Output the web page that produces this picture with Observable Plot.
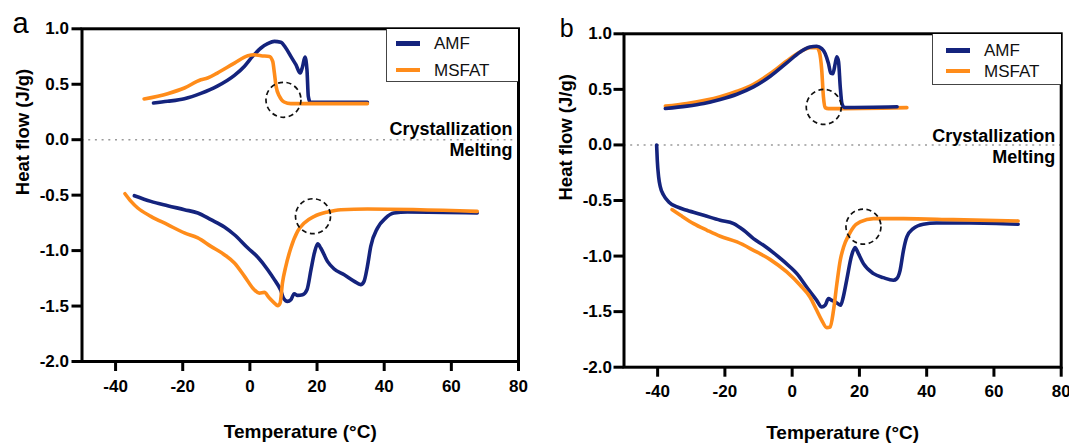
<!DOCTYPE html>
<html>
<head>
<meta charset="utf-8">
<script src="https://cdn.jsdelivr.net/npm/d3@7"></script>
<script src="https://cdn.jsdelivr.net/npm/@observablehq/plot@0.6"></script>
<style>
  html, body { margin: 0; padding: 0; background: #fff; }
  #wrap { position: relative; width: 1069px; height: 444px; overflow: hidden; font-family: "Liberation Sans", Arial, sans-serif; }
  .panel { position: absolute; top: 0; }
  .legend { position: absolute; box-sizing: border-box; border-left: 1px solid #444; border-bottom: 1px solid #444; background: #fff; }
  .sw { position: absolute; width: 24px; height: 4.5px; }
  .lt { position: absolute; font-size: 17px; line-height: 17px; color: #111; }
</style>
</head>
<body>
<div id="wrap"></div>
<script>
// ---- data (Temperature °C, Heat flow J/g) ----
const seriesNames = ["AMF", "MSFAT"];
const seriesColors = ["#14237d", "#ff8c1a"];
const xTicks = [-40, -20, 0, 20, 40, 60, 80];
const yTicks = [-2, -1.5, -1, -0.5, 0, 0.5, 1];

// Panel a
const a_AMF_cryst = [[-28.7,0.331],[-24.5,0.346],[-19.5,0.37],[-14.6,0.418],[-9.7,0.483],[-4.6,0.58],[-1.6,0.663],[0.8,0.751],[3.3,0.827],[5.3,0.866],[7.3,0.887],[9.2,0.878],[10.7,0.827],[12.2,0.751],[13.7,0.676],[15.0,0.601],[15.7,0.661],[16.4,0.745],[17.0,0.631],[17.4,0.391],[18.0,0.337],[35.0,0.337]];
const a_MSFAT_cryst = [[-31.5,0.367],[-24.5,0.415],[-19.5,0.466],[-14.6,0.541],[-12.6,0.556],[-9.7,0.601],[-4.6,0.691],[-0.6,0.757],[1.3,0.766],[3.3,0.757],[5.8,0.751],[6.8,0.706],[7.3,0.601],[7.8,0.481],[8.8,0.391],[10.2,0.34],[12.2,0.325],[35.0,0.325]];
const a_AMF_melt = [[-34.4,-0.505],[-29.5,-0.556],[-24.5,-0.595],[-19.5,-0.631],[-15.5,-0.661],[-11.6,-0.721],[-7.6,-0.787],[-4.6,-0.857],[-0.6,-0.977],[2.3,-1.058],[5.3,-1.172],[7.3,-1.262],[9.2,-1.359],[10.0,-1.428],[11.2,-1.458],[12.2,-1.443],[13.2,-1.389],[14.2,-1.404],[15.7,-1.398],[17.0,-1.353],[18.2,-1.172],[19.2,-1.022],[20.2,-0.938],[21.1,-0.977],[23.1,-1.097],[25.1,-1.166],[28.1,-1.218],[31.1,-1.277],[33.0,-1.307],[34.0,-1.277],[35.0,-1.142],[36.0,-0.962],[38.0,-0.797],[40.4,-0.707],[42.9,-0.661],[46.9,-0.652],[67.7,-0.661]];
const a_MSFAT_melt = [[-37.2,-0.487],[-35.4,-0.556],[-33.4,-0.616],[-29.5,-0.691],[-24.5,-0.766],[-19.5,-0.841],[-15.5,-0.886],[-11.6,-0.962],[-7.6,-1.037],[-4.6,-1.112],[-1.6,-1.232],[1.3,-1.353],[2.8,-1.383],[4.3,-1.377],[5.8,-1.428],[7.3,-1.473],[8.3,-1.497],[9.0,-1.473],[9.7,-1.292],[10.7,-1.142],[12.2,-0.977],[14.2,-0.827],[16.2,-0.751],[19.2,-0.691],[23.1,-0.652],[27.1,-0.631],[35.0,-0.625],[67.7,-0.646]];
const a_circles = [[10.0, 0.36], [18.8, -0.69]];

// Panel b
const b_AMF_cryst = [[-37.7,0.328],[-31.3,0.349],[-26.3,0.373],[-21.4,0.409],[-16.4,0.456],[-11.5,0.522],[-6.5,0.618],[-1.6,0.738],[2.4,0.837],[5.3,0.882],[7.3,0.888],[8.8,0.867],[9.8,0.822],[10.8,0.732],[11.5,0.645],[12.1,0.64],[12.8,0.732],[13.3,0.792],[13.8,0.747],[14.3,0.522],[14.8,0.372],[15.5,0.337],[31.2,0.343]];
const b_MSFAT_cryst = [[-37.7,0.349],[-31.3,0.373],[-21.4,0.433],[-16.4,0.483],[-11.5,0.546],[-6.5,0.642],[-1.6,0.756],[2.4,0.837],[5.3,0.876],[7.3,0.876],[8.1,0.837],[8.8,0.672],[9.3,0.432],[9.8,0.336],[10.8,0.327],[34.1,0.336]];
const b_AMF_melt = [[-40.3,0.0],[-40.1,-0.14],[-39.7,-0.288],[-39.2,-0.378],[-38.2,-0.453],[-36.7,-0.513],[-34.2,-0.558],[-31.3,-0.588],[-26.3,-0.633],[-21.4,-0.678],[-17.4,-0.708],[-14.4,-0.768],[-11.5,-0.843],[-8.5,-0.903],[-4.6,-0.993],[-0.6,-1.098],[1.4,-1.158],[4.3,-1.278],[7.3,-1.398],[8.8,-1.458],[9.8,-1.443],[10.8,-1.383],[11.8,-1.398],[13.3,-1.422],[14.4,-1.443],[15.2,-1.368],[16.2,-1.218],[17.7,-0.993],[18.7,-0.924],[19.7,-0.978],[21.2,-1.068],[24.2,-1.158],[27.1,-1.194],[30.1,-1.218],[31.1,-1.203],[32.1,-1.128],[33.1,-0.948],[34.1,-0.828],[36.0,-0.753],[39.0,-0.714],[42.9,-0.702],[52.8,-0.702],[67.2,-0.714]];
const b_MSFAT_melt = [[-35.7,-0.582],[-33.2,-0.633],[-29.3,-0.708],[-25.3,-0.768],[-21.4,-0.822],[-16.4,-0.873],[-11.5,-0.948],[-6.5,-1.032],[-1.6,-1.143],[2.4,-1.263],[5.3,-1.368],[7.3,-1.488],[8.8,-1.578],[10.3,-1.644],[11.3,-1.638],[12.3,-1.488],[13.3,-1.248],[14.3,-1.038],[15.3,-0.918],[16.8,-0.813],[18.3,-0.738],[20.2,-0.693],[24.2,-0.663],[33.1,-0.663],[47.9,-0.672],[67.2,-0.684]];
const b_circles = [[9.4, 0.342], [21.2, -0.735]];

const xLabel = "Temperature (°C)";
const yLabel = "Heat flow (J/g)";
const topNote = "Crystallization";
const bottomNote = "Melting";

// ---- drawing ----
const FONT = "'Liberation Sans', Arial, sans-serif";
function lineMark(data, color) {
  return Plot.line(data, {x: d => d[0], y: d => d[1], stroke: color, strokeWidth: 3.6, curve: "monotone-x", strokeLinejoin: "round"});
}
function panel(o) {
  return Plot.plot({
    width: o.width, height: 444,
    marginLeft: o.ml, marginRight: o.mr, marginTop: o.mt, marginBottom: o.mb,
    x: {domain: [-50, 80]},
    y: {domain: [-2, 1]},
    style: {fontFamily: FONT, fontSize: "17px", fontWeight: "bold", color: "black", background: "transparent", overflow: "visible"},
    marks: [
      Plot.ruleY([0], {stroke: "#9a9a9a", strokeWidth: 1.6, strokeDasharray: "2,4.7"}),
      ...o.lines,
      Plot.dot(o.circles, {x: d => d[0], y: d => d[1], r: 17.5, stroke: "#111", strokeWidth: 1.7, strokeDasharray: "5,3.5", fill: "none"}),
      Plot.frame({stroke: "black", strokeWidth: 3}),
      Plot.axisX({ticks: xTicks, tickSize: 10, tickPadding: o.xpad, strokeWidth: 3, tickFormat: d => String(d), label: null, fontSize: 17, fontWeight: "bold"}),
      Plot.axisY({ticks: yTicks, tickSize: 10, tickPadding: o.ypad, strokeWidth: 3, tickFormat: d => d.toFixed(1), label: null, fontSize: 17, fontWeight: "bold"}),
      Plot.text([topNote], {y: () => 0, frameAnchor: "right", text: d => d, textAnchor: "end", lineAnchor: "bottom", dx: -6, dy: o.cDy, fontSize: 18, fontWeight: "bold"}),
      Plot.text([bottomNote], {y: () => 0, frameAnchor: "right", text: d => d, textAnchor: "end", lineAnchor: "bottom", dx: -6, dy: o.mDy, fontSize: 18, fontWeight: "bold"}),
      Plot.text([yLabel], {frameAnchor: "left", text: d => d, rotate: -90, dx: o.yTitleDx, lineAnchor: "middle", fontSize: 18.5, fontWeight: "bold"}),
      Plot.text([xLabel], {frameAnchor: "bottom", text: d => d, dy: o.xTitleDy, lineAnchor: "middle", fontSize: 19, fontWeight: "bold"}),
      Plot.text([o.letter], {frameAnchor: "top-left", text: d => d, textAnchor: "start", lineAnchor: "bottom", dx: o.letterDx, dy: o.letterDy, fontSize: o.letterSize, fontWeight: "normal"})
    ]
  });
}

const wrap = document.getElementById("wrap");
function place(el, left) {
  const d = document.createElement("div");
  d.className = "panel"; d.style.left = left + "px";
  d.appendChild(el); wrap.appendChild(d);
}

const svgA = panel({
  width: 540, ml: 81.5, mr: 22, mt: 28.3, mb: 83,
  xpad: 8, ypad: 3,
  lines: [lineMark(a_AMF_melt, seriesColors[0]), lineMark(a_MSFAT_melt, seriesColors[1]), lineMark(a_AMF_cryst, seriesColors[0]), lineMark(a_MSFAT_cryst, seriesColors[1])],
  circles: a_circles,
  cDy: -5, mDy: 16.7, yTitleDx: -58.5, xTitleDy: 70,
  letter: "a", letterDx: 12 - 81.5, letterDy: 3.7, letterSize: 29
});
place(svgA, 0);

const svgB = panel({
  width: 529, ml: 83.5, mr: 8.3, mt: 33.3, mb: 77.3,
  xpad: 8, ypad: 2,
  lines: [lineMark(b_AMF_melt, seriesColors[0]), lineMark(b_MSFAT_melt, seriesColors[1]), lineMark(b_MSFAT_cryst, seriesColors[1]), lineMark(b_AMF_cryst, seriesColors[0])],
  circles: b_circles,
  cDy: -3, mDy: 18, yTitleDx: -57.5, xTitleDy: 66,
  letter: "b", letterDx: 559.3 - 623.5, letterDy: 3.4, letterSize: 25
});
place(svgB, 540);

// legends
function legend(box, rows) {
  const lg = document.createElement("div");
  lg.className = "legend";
  lg.style.left = box.x0 + "px"; lg.style.top = box.y0 + "px";
  lg.style.width = (box.x1 - box.x0) + "px"; lg.style.height = (box.y1 - box.y0) + "px";
  wrap.appendChild(lg);
  seriesNames.forEach((name, i) => {
    const sw = document.createElement("div");
    sw.className = "sw"; sw.style.background = seriesColors[i];
    sw.style.left = box.swX + "px"; sw.style.top = (rows[i] - 2.25) + "px";
    wrap.appendChild(sw);
    const t = document.createElement("div");
    t.className = "lt"; t.textContent = name;
    t.style.left = box.txX + "px"; t.style.top = (rows[i] - 8.5) + "px";
    wrap.appendChild(t);
  });
}
legend({x0: 386, y0: 29, x1: 518, y1: 82, swX: 396, txX: 434}, [43.5, 70]);
legend({x0: 932, y0: 34, x1: 1061, y1: 85, swX: 946, txX: 984}, [50.5, 71]);
</script>
</body>
</html>
